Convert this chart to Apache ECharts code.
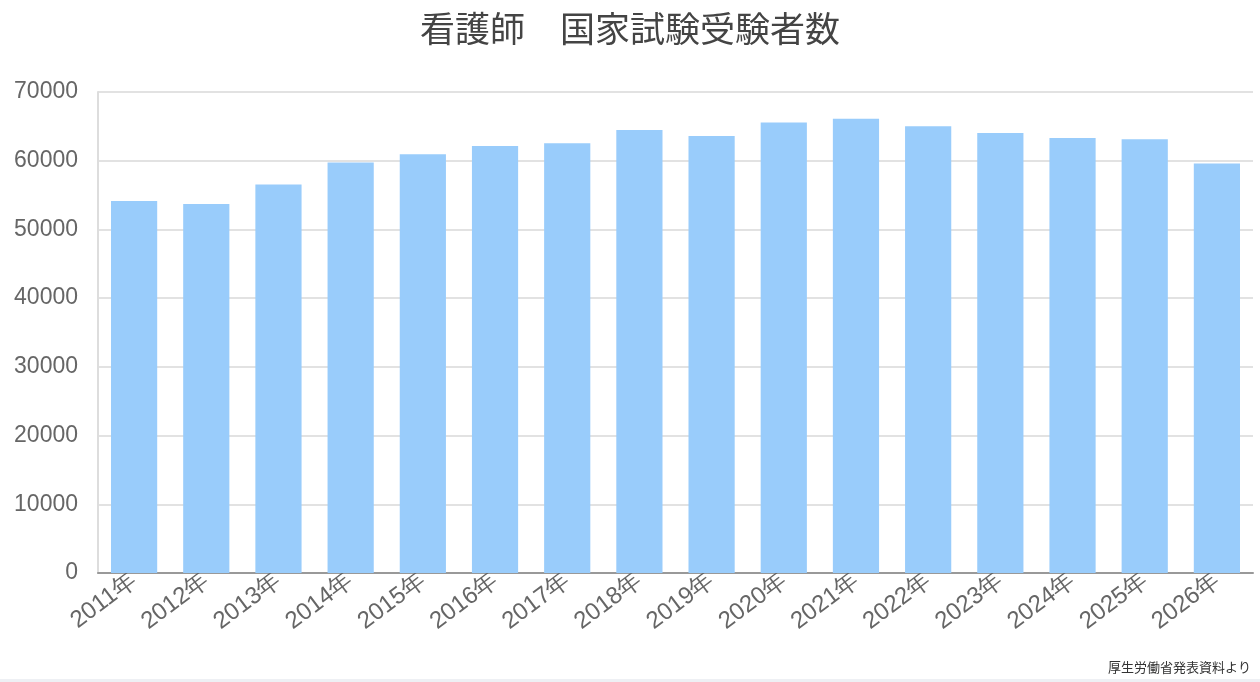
<!DOCTYPE html>
<html><head><meta charset="utf-8">
<script src="https://cdn.jsdelivr.net/npm/echarts@6/dist/echarts.min.js"></script>
<style>html,body{margin:0;padding:0;background:#fff;}#c{width:1260px;height:682px;}</style>
</head><body><div id="c"></div>
<script>
const titleText = '看護師\u3000国家試験受験者数';
const sourceText = '厚生労働省発表資料より';
const categories = ['2011年','2012年','2013年','2014年','2015年','2016年','2017年','2018年','2019年','2020年','2021年','2022年','2023年','2024年','2025年','2026年'];
const examinees = [54138,53702,56530,59725,60947,62154,62534,64488,63603,65568,66124,65025,64051,63301,63131,59600];
const yTicks = {min:0, max:70000, interval:10000};

const chart = echarts.init(document.getElementById('c'));
chart.setOption({
  animation:false,
  title:[{text:titleText,left:'center',top:6,textStyle:{fontSize:35,fontWeight:'normal',color:'#444',fontFamily:'"Noto Sans CJK JP", sans-serif'}},
         {text:sourceText,right:4,top:656,textStyle:{fontSize:13,fontWeight:'normal',color:'#333',fontFamily:'"Noto Sans CJK JP", sans-serif'}}],
  graphic:[{type:'rect',shape:{x:0,y:679,width:1260,height:3},style:{fill:'#eef0f4'},silent:true}],
  grid:{left:98,right:7,top:92,bottom:109,containLabel:false},
  xAxis:{type:'category',data:categories,
    axisLine:{lineStyle:{color:'#999',width:2}},axisTick:{show:false},
    axisLabel:{rotate:37,fontSize:24,color:'#666',margin:5,interval:0,fontFamily:'"Liberation Sans", Arial, sans-serif'}},
  yAxis:{type:'value',min:yTicks.min,max:yTicks.max,interval:yTicks.interval,
    axisLine:{show:true,lineStyle:{color:'#ddd',width:2}},
    splitLine:{lineStyle:{color:'#e2e2e2',width:2}},axisTick:{show:false},
    axisLabel:{fontSize:23,color:'#666',margin:20,formatter:v=>String(v),fontFamily:'"Liberation Sans", Arial, sans-serif'}},
  series:[{type:'bar',data:examinees,barWidth:'64%',itemStyle:{color:'#99ccfb'}}]
});
</script></body></html>
